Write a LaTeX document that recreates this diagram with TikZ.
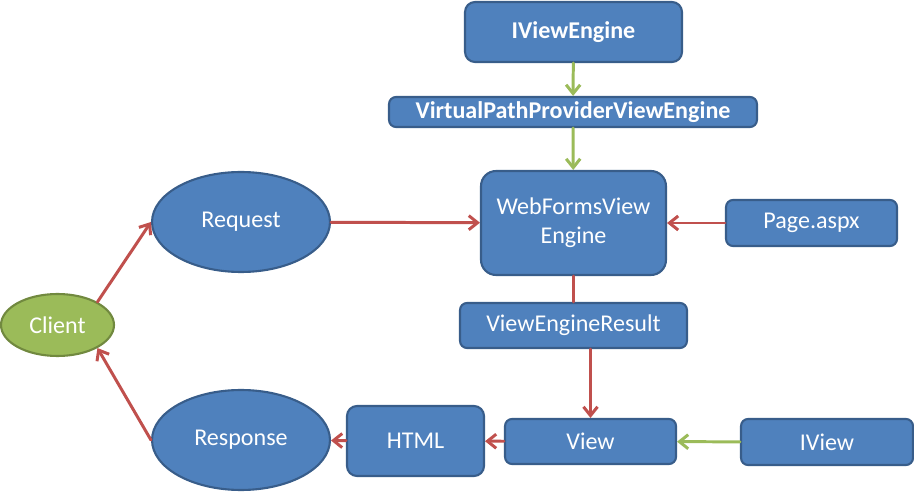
\documentclass[tikz,border=0pt]{standalone}
\usepackage{fontspec}
\setmainfont{Carlito}
\usetikzlibrary{arrows.meta,shapes.geometric}
\definecolor{boxblue}{HTML}{4F81BD}
\definecolor{boxline}{HTML}{385D8A}
\definecolor{clientgreen}{HTML}{9BBB59}
\definecolor{clientline}{HTML}{71893F}
\definecolor{flowred}{HTML}{C0504D}
\begin{document}
\begin{tikzpicture}[x=0.02cm,y=-0.02cm,>={Straight Barb[length=5pt,width=8pt]},line join=round,line cap=round,font=\fontsize{13.7}{16.5}\selectfont,
		box/.style={draw=boxline,fill=boxblue,line width=1.2pt,text=white,rounded corners=4pt,inner sep=0pt,align=center},
		oval/.style={ellipse,draw=boxline,fill=boxblue,line width=1.2pt,text=white,inner sep=0pt,minimum width=3.56cm,minimum height=2cm},
		redflow/.style={draw=flowred,line width=1.7pt},
		greenflow/.style={draw=clientgreen,line width=1.7pt}]
	\useasboundingbox (0,0) rectangle (914,493);
	% engine chain
	\node[box,rounded corners=0.2cm,minimum width=4.34cm,minimum height=1.2cm,font=\fontsize{13.7}{16.5}\selectfont\bfseries] (ive) at (573.5,32) {IViewEngine};
	\node[box,minimum width=7.36cm,minimum height=0.6cm,font=\fontsize{13.7}{16.5}\selectfont\bfseries] (vpp) at (573,112) {VirtualPathProviderViewEngine};
	\node[box,rounded corners=0.3cm,minimum width=3.7cm,minimum height=2.08cm] (wfe) at (573.5,223) {WebFormsView\\Engine};
	\node[box,minimum width=3.42cm,minimum height=0.92cm] (page) at (811.5,223) {Page.aspx};
	\node[box,minimum width=4.54cm,minimum height=0.9cm] (ver) at (573.5,325.5) {ViewEngineResult};
	\node[box,minimum width=3.42cm,minimum height=0.9cm] (view) at (590.5,441.5) {View};
	\node[box,minimum width=3.44cm,minimum height=0.92cm] (iview) at (827,442) {IView};
	\node[box,rounded corners=0.2cm,minimum width=2.74cm,minimum height=1.4cm] (html) at (415.5,441) {HTML};
	% client side
	\node[oval] (req) at (241,222) {Request};
	\node[oval] (resp) at (241,440) {Response};
	\node[oval,draw=clientline,fill=clientgreen,minimum width=2.26cm,minimum height=1.24cm] (client) at (57.5,325) {Client};
	% connectors
	\draw[greenflow,->] (ive) -- (vpp);
	\draw[greenflow,->] (vpp) -- (wfe);
	\draw[redflow,->] (req) -- (wfe);
	\draw[redflow,->] (page) -- (wfe);
	\draw[redflow] (wfe) -- (ver);
	\draw[redflow,->] (ver.south -| view.north) -- (view.north);
	\draw[greenflow,->] (iview) -- (view);
	\draw[redflow,->] (view) -- (html);
	\draw[redflow,->] (html) -- (resp);
	\draw[redflow,->] (resp.west) -- (client.-30);
	\draw[redflow,->] (client.30) -- (req.west);
\end{tikzpicture}
\end{document}
